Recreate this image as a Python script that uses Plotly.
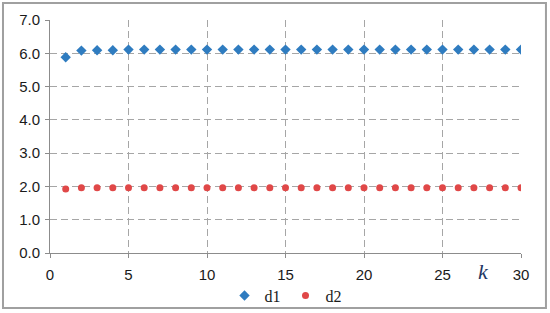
import plotly.graph_objects as go

k = list(range(1, 31))
d1 = [5.88, 6.08, 6.09, 6.09, 6.11, 6.11, 6.11, 6.11, 6.11, 6.11,
      6.11, 6.11, 6.11, 6.11, 6.11, 6.11, 6.11, 6.11, 6.11, 6.11,
      6.11, 6.11, 6.11, 6.11, 6.11, 6.11, 6.11, 6.11, 6.11, 6.11]
d2 = [1.92, 1.96, 1.96, 1.96, 1.96, 1.96, 1.96, 1.96, 1.96, 1.96,
      1.96, 1.96, 1.96, 1.96, 1.96, 1.96, 1.96, 1.96, 1.96, 1.96,
      1.96, 1.96, 1.96, 1.96, 1.96, 1.96, 1.96, 1.96, 1.96, 1.96]
yticks = [0, 1, 2, 3, 4, 5, 6, 7]
xticks = [0, 5, 10, 15, 20, 25, 30]

fig = go.Figure()
fig.add_trace(go.Scatter(x=k, y=d1, mode="markers", name="d1",
                         marker=dict(symbol="diamond", size=8, color="#2f7cc0")))
fig.add_trace(go.Scatter(x=k, y=d2, mode="markers", name="d2",
                         marker=dict(symbol="circle", size=7, color="#e04848")))

grid = dict(showgrid=True, gridcolor="#a6a6a6", griddash="7px,4px", gridwidth=1,
            showline=True, linecolor="#8c8c8c", linewidth=1,
            ticks="outside", ticklen=4, tickcolor="#8c8c8c",
            tickfont=dict(family="Liberation Sans, Arial", size=15, color="#1a1a1a"),
            zeroline=False)

fig.update_layout(
    width=550, height=313,
    margin=dict(l=50, r=29, t=20, b=60, autoexpand=False),
    plot_bgcolor="white", paper_bgcolor="white",
    xaxis=dict(range=[0, 30], tickvals=xticks, ticklabelstandoff=4, **grid),
    yaxis=dict(range=[0, 7], tickvals=yticks, tickformat=".1f", ticklabelstandoff=2, **grid),
    showlegend=True,
    legend=dict(orientation="h", x=0.5, xanchor="center", y=-0.11, yanchor="top",
                bgcolor="rgba(0,0,0,0)",
                font=dict(family="Liberation Serif, Times New Roman", size=16, color="#1a1a1a"),
                itemwidth=30, tracegroupgap=0),
    annotations=[dict(text="<i>k</i>", x=27.6, y=0, xref="x", yref="y",
                      yshift=-18, showarrow=False, xanchor="center", yanchor="middle",
                      font=dict(family="Liberation Serif, Times New Roman", size=22, color="#1f3864"))],
    shapes=[dict(type="rect", xref="paper", yref="paper",
                 x0=-0.0998, x1=1.053, y0=-0.236, y1=1.073,
                 line=dict(color="#a0a0a0", width=2))],
)

fig.write_html("out.html", config={"displayModeBar": False},
               post_script="document.body.style.margin='0';document.body.style.overflow='hidden';")
